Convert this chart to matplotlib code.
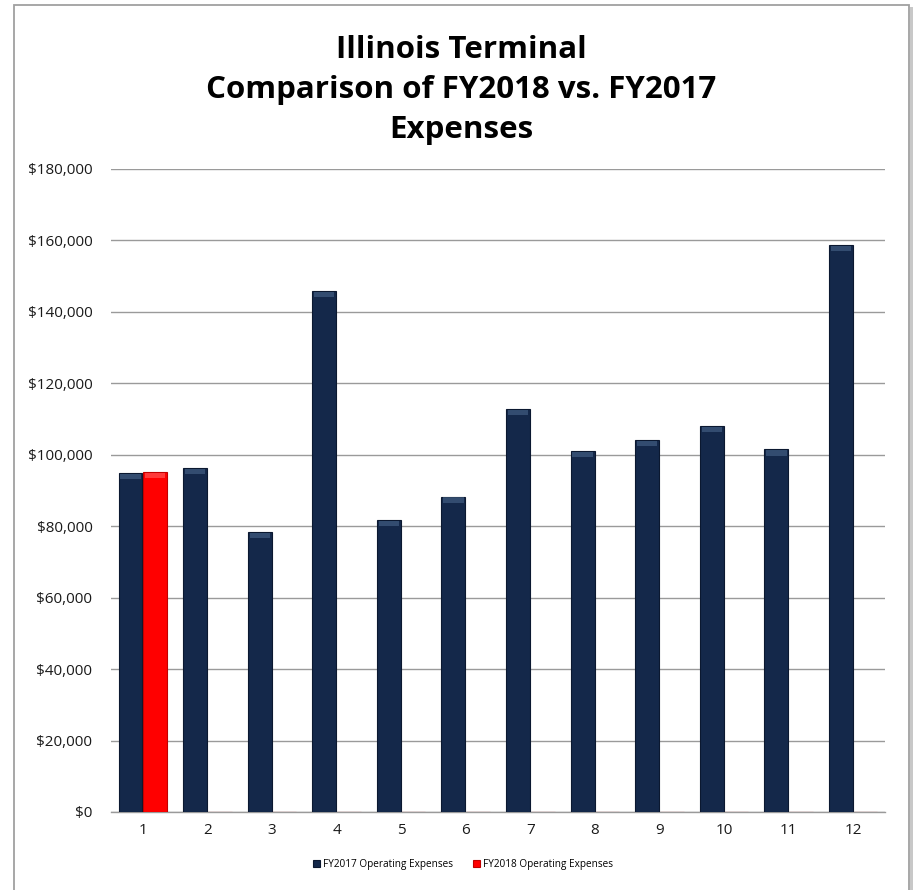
import numpy as np
import matplotlib
matplotlib.use('Agg')
import matplotlib.pyplot as plt
from matplotlib.patches import Rectangle

plt.rcParams['font.family'] = ['Open Sans', 'DejaVu Sans']

months = ['1', '2', '3', '4', '5', '6', '7', '8', '9', '10', '11', '12']
fy2017 = [94900, 96300, 78300, 145900, 81700, 88300, 112800, 101100, 104100, 108000, 101500, 158700]
fy2018 = [95200, 0, 0, 0, 0, 0, 0, 0, 0, 0, 0, 0]
yticks = [0, 20000, 40000, 60000, 80000, 100000, 120000, 140000, 160000, 180000]

fig = plt.figure(figsize=(9.23, 8.9), dpi=100)
ax = fig.add_axes([110.5/923, 1-812/890, 775/923, (812-169)/890])

x = np.arange(len(months))
w = 0.37
navy = '#14284a'
ax.bar(x - 0.19, fy2017, w, color=navy, edgecolor='#0b1830', linewidth=0.8,
       label='FY2017 Operating Expenses', zorder=3)
ax.bar(x + 0.19, fy2018, w, color='#ff0000', edgecolor='#c00000', linewidth=0.8,
       label='FY2018 Operating Expenses', zorder=3)

# soft bevel highlight at the top of each bar
cap = 1500
ax.bar(x - 0.19, [cap if v > 0 else 0 for v in fy2017], w * 0.85,
       bottom=[v - cap * 1.15 for v in fy2017], color='#5a7aa0', alpha=0.45,
       linewidth=0, zorder=4)
ax.bar(x + 0.19, [cap if v > 0 else 0 for v in fy2018], w * 0.85,
       bottom=[v - cap * 1.15 for v in fy2018], color='#ff8080', alpha=0.45,
       linewidth=0, zorder=4)

ax.set_xlim(-0.5, len(months) - 0.5)
ax.set_ylim(0, 180000)
ax.set_yticks(yticks)
ax.set_yticklabels(['${:,}'.format(v) for v in yticks])
ax.set_xticks(x)
ax.set_xticklabels(months)
ax.yaxis.grid(True, color='#9a9a9a', linewidth=1.0, zorder=0)
for s in ['top', 'right', 'left']:
    ax.spines[s].set_visible(False)
ax.spines['bottom'].set_color('#9a9a9a')
ax.spines['bottom'].set_linewidth(1.0)
ax.tick_params(axis='both', length=0, labelsize=11, colors='#1a1a1a')
ax.tick_params(axis='y', pad=13)
ax.tick_params(axis='x', pad=8)

title_kw = dict(ha='center', va='center', fontsize=22.5, fontweight='bold')
fig.text(0.5, 1-50/890, 'Illinois Terminal', **title_kw)
fig.text(0.5, 1-90/890, 'Comparison of FY2018 vs. FY2017', **title_kw)
fig.text(0.5, 1-130/890, 'Expenses', **title_kw)

leg = fig.legend(loc='center', bbox_to_anchor=(463/923, 1-864/890), ncol=2,
                 frameon=False, fontsize=7.2, handlelength=0.7, handleheight=0.7,
                 handletextpad=0.3, columnspacing=2.0)

# chart border with a slight shadow on the right
fig.patches.append(Rectangle((910/923, -0.02), 3/923, 1.0 - 7/890 + 0.02,
                             transform=fig.transFigure, facecolor='#c8c8c8',
                             edgecolor='none'))
fig.patches.append(Rectangle((14/923, -0.02), 895/923, 1.0 - 5/890 + 0.02,
                             transform=fig.transFigure, fill=False,
                             edgecolor='#a0a0a0', linewidth=1.3))

fig.savefig('out.png', dpi=100)
